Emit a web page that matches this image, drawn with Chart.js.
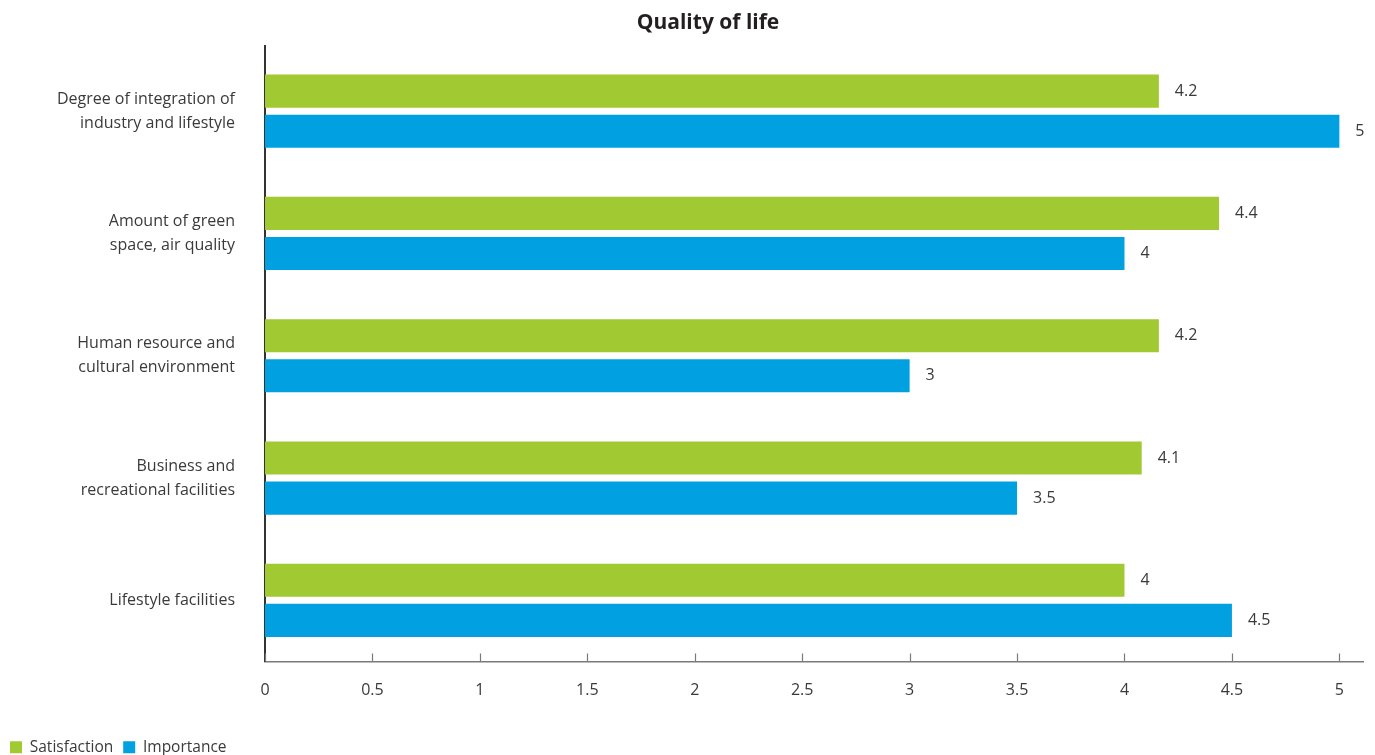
<!DOCTYPE html>
<html>
<head>
<meta charset="utf-8">
<script src="https://cdn.jsdelivr.net/npm/chart.js@4.4.1/dist/chart.umd.min.js"></script>
<style>
  html, body { margin: 0; padding: 0; background: #fff; }
  #wrap { width: 1375px; height: 755px; position: relative; }
</style>
</head>
<body>
<div id="wrap"><canvas id="chart"></canvas></div>
<script>
// chart data
const categories = [
  ['Degree of integration of', 'industry and lifestyle'],
  ['Amount of green', 'space, air quality'],
  ['Human resource and', 'cultural environment'],
  ['Business and', 'recreational facilities'],
  ['Lifestyle facilities']
];
const satisfaction = [4.16, 4.44, 4.16, 4.08, 4.0];
const importance = [5, 4, 3, 3.5, 4.5];
const xTicks = [0, 0.5, 1, 1.5, 2, 2.5, 3, 3.5, 4, 4.5, 5];
const chartTitle = 'Quality of life';

const textColor = '#3a3a3a';
const fontFamily = '"Open Sans", "Noto Sans", sans-serif';

// title drawn a bit right of the canvas centre, like the original
const titlePlugin = {
  id: 'titleText',
  afterDraw(chart) {
    const c = chart.ctx;
    c.save();
    c.font = 'bold 21px ' + fontFamily;
    c.fillStyle = '#231f20';
    c.textAlign = 'center';
    c.textBaseline = 'middle';
    c.fillText(chartTitle, 708, 23);
    c.restore();
  }
};

// small tick marks pointing up from the x axis, plus the y axis stub above the plot
const tickMarks = {
  id: 'tickMarks',
  afterDraw(chart) {
    const x = chart.scales.x;
    const y = chart.scales.y;
    const c = chart.ctx;
    c.save();
    c.strokeStyle = '#7a7a7a';
    c.lineWidth = 1.2;
    xTicks.forEach(v => {
      const px = Math.round(x.getPixelForValue(v)) + 0.5;
      c.beginPath();
      c.moveTo(px, x.top - 8);
      c.lineTo(px, x.top);
      c.stroke();
    });
    c.strokeStyle = '#333';
    c.lineWidth = 2;
    c.beginPath();
    c.moveTo(y.right, y.top - 5);
    c.lineTo(y.right, y.top + 1);
    c.stroke();
    c.restore();
  }
};

// value labels at the end of each bar
const valueLabels = {
  id: 'valueLabels',
  afterDatasetsDraw(chart) {
    const c = chart.ctx;
    c.save();
    c.font = '16px ' + fontFamily;
    c.fillStyle = textColor;
    c.textAlign = 'left';
    c.textBaseline = 'middle';
    chart.data.datasets.forEach((ds, i) => {
      chart.getDatasetMeta(i).data.forEach((bar, j) => {
        const txt = String(Number(ds.data[j].toFixed(1)));
        c.fillText(txt, bar.x + 16, bar.y);
      });
    });
    c.restore();
  }
};

new Chart(document.getElementById('chart'), {
  type: 'bar',
  data: {
    labels: categories,
    datasets: [
      {
        label: 'Satisfaction',
        data: satisfaction,
        backgroundColor: '#a0c932',
        categoryPercentage: 0.656,
        barPercentage: 0.825
      },
      {
        label: 'Importance',
        data: importance,
        backgroundColor: '#00a0e1',
        categoryPercentage: 0.656,
        barPercentage: 0.825
      }
    ]
  },
  options: {
    indexAxis: 'y',
    responsive: true,
    maintainAspectRatio: false,
    animation: false,
    layout: { padding: { top: 50, right: 12, left: 0, bottom: -10 } },
    scales: {
      x: {
        type: 'linear',
        min: 0,
        max: 5.11,
        afterBuildTicks(scale) {
          scale.ticks = xTicks.map(v => ({ value: v }));
        },
        afterFit(scale) { scale.height = 68; },
        grid: { display: false, drawTicks: false },
        border: { display: true, color: '#7a7a7a', width: 1.5 },
        ticks: {
          padding: 19,
          color: textColor,
          font: { size: 16, family: fontFamily },
          callback: v => String(v)
        }
      },
      y: {
        afterFit(scale) { scale.width = 265; },
        grid: { display: false, drawTicks: false },
        border: { display: true, color: '#333', width: 2 },
        ticks: {
          padding: 30,
          color: textColor,
          font: { size: 16, family: fontFamily, lineHeight: 1.5 }
        }
      }
    },
    plugins: {
      title: { display: false },
      tooltip: { enabled: false },
      legend: {
        position: 'bottom',
        align: 'start',
        labels: {
          boxWidth: 12,
          boxHeight: 12,
          padding: 10,
          color: textColor,
          font: { size: 15.5, family: fontFamily }
        }
      }
    }
  },
  plugins: [titlePlugin, tickMarks, valueLabels]
});
</script>
</body>
</html>
